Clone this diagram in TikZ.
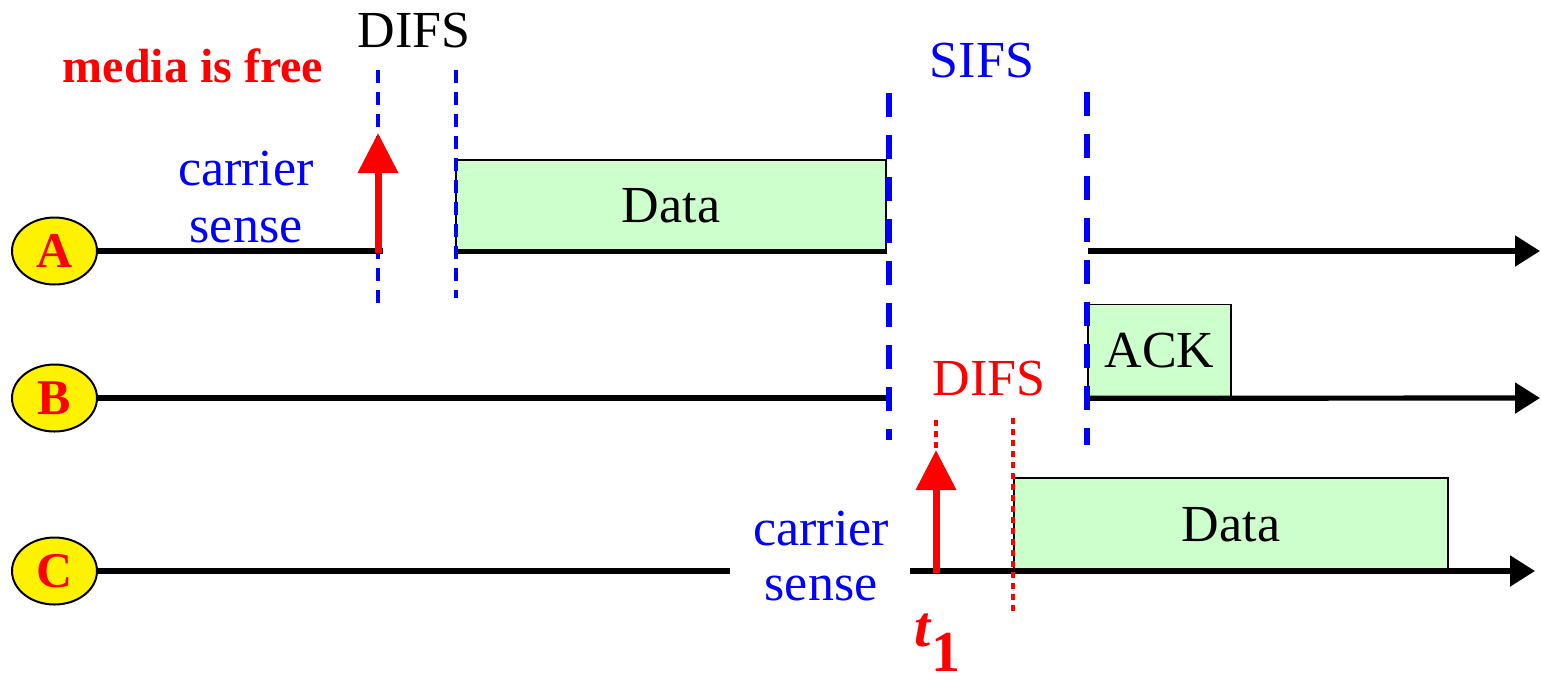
\documentclass[tikz,border=0pt]{standalone}
\usepackage{fontspec}
\setmainfont{Liberation Serif}
\usetikzlibrary{arrows.meta,shapes.geometric}
\definecolor{pktgreen}{HTML}{CCFFCC}
\begin{document}
\begin{tikzpicture}[x=0.5pt,y=-0.5pt,
  station/.style={ellipse, draw=black, line width=1pt, fill=yellow,
    minimum width=42.5pt, minimum height=33.5pt, inner sep=0pt,
    text=red, font=\fontsize{25}{25}\selectfont\bfseries},
  timeline/.style={black, line width=2.6pt},
  axis/.style={timeline, -{Triangle[length=12.5pt,width=15pt]}},
  frame/.style={draw=black, line width=0.8pt, fill=pktgreen, inner sep=0pt,
    font=\fontsize{26}{26}\selectfont},
  ifs/.style={blue, line width=1.7pt, dash pattern=on 6.5pt off 4.5pt},
  ifsthick/.style={blue, line width=3pt, dash pattern=on 12pt off 9pt},
  difsdot/.style={red, line width=2.3pt, dash pattern=on 3pt off 2.5pt},
  sensearrow/.style={red, line width=3.5pt, -{Triangle[length=20pt,width=19.5pt]}},
  txt/.style={inner sep=0pt, anchor=base, font=\fontsize{26}{26}\selectfont},
]
\useasboundingbox (0,0) rectangle (1541,681);

% frames on the time lines
\node[frame, minimum width=215pt, minimum height=45.5pt] (dataA) at (671,205.5) {Data};
\node[frame, minimum width=71.5pt, minimum height=46.5pt] (ack) at (1159.5,351) {ACK};
\node[frame, minimum width=217pt, minimum height=46.5pt] (dataC) at (1231,524.5) {Data};

% stations
\node[station] (A) at (54.5,251) {A};
\node[station] (B) at (54.5,398) {B};
\node[station] (C) at (54.5,571) {C};

% time line A
\coordinate (aStop) at (383,251);
\coordinate (aRes) at (1088,251);
\coordinate (aEnd) at (1540,251);
\draw[timeline] (A.east) -- (aStop);
\draw[timeline] (dataA.south west) -- (dataA.south east);
\draw[axis] (aRes) -- (aEnd);

% time line B
\coordinate (bStop) at (886,398);
\coordinate (bEnd) at (1540,398);
\draw[timeline] (B.east) -- (bStop);
\draw[axis] (ack.south west) -- (bEnd);

% time line C
\coordinate (cStop) at (730,571);
\coordinate (cRes) at (910,571);
\coordinate (cEnd) at (1535,571);
\draw[timeline] (C.east) -- (cStop);
\draw[axis] (cRes) -- (cEnd);

% interframe spaces
\coordinate (d1t) at (378,70);  \coordinate (d1b) at (378,303);
\coordinate (d2t) at (456,70);  \coordinate (d2b) at (456,298);
\draw[ifs] (d1t) -- (d1b);
\draw[ifs] (d2t) -- (d2b);
\coordinate (s1t) at (889,93);  \coordinate (s1b) at (889,440);
\coordinate (s2t) at (1087,92); \coordinate (s2b) at (1087,445);
\draw[ifsthick] (s1t) -- (s1b);
\draw[ifsthick] (s2t) -- (s2b);
\coordinate (r1t) at (936,420); \coordinate (r1b) at (936,452);
\coordinate (r2t) at (1013,418); \coordinate (r2b) at (1013,613);
\draw[difsdot] (r1t) -- (r1b);
\draw[difsdot] (r2t) -- (r2b);

% carrier sense instants
\coordinate (senseA0) at (378,253); \coordinate (senseA1) at (378,133);
\coordinate (senseC0) at (936,573); \coordinate (senseC1) at (936,450);
\draw[sensearrow] (senseA0) -- (senseA1);
\draw[sensearrow] (senseC0) -- (senseC1);

% labels
\node[txt, red, font=\fontsize{24}{24}\selectfont\bfseries] (free) at (193,82) {media is free};
\node[txt] (difsA) at (414,47) {DIFS};
\node[txt, blue] (sifs) at (982,77) {SIFS};
\node[txt, red] (difsC) at (989,395) {DIFS};
\node[txt, blue] (csA1) at (246,185) {carrier};
\node[txt, blue] (csA2) at (246,242) {sense};
\node[txt, blue] (csC1) at (821,545) {carrier};
\node[txt, blue] (csC2) at (821,600) {sense};
\node[inner sep=0pt, anchor=base west, red, font=\fontsize{29}{29}\selectfont\bfseries]
  (t1) at (914,646) {\textit{t}\raisebox{-12.5pt}{1}};
\end{tikzpicture}
\end{document}
